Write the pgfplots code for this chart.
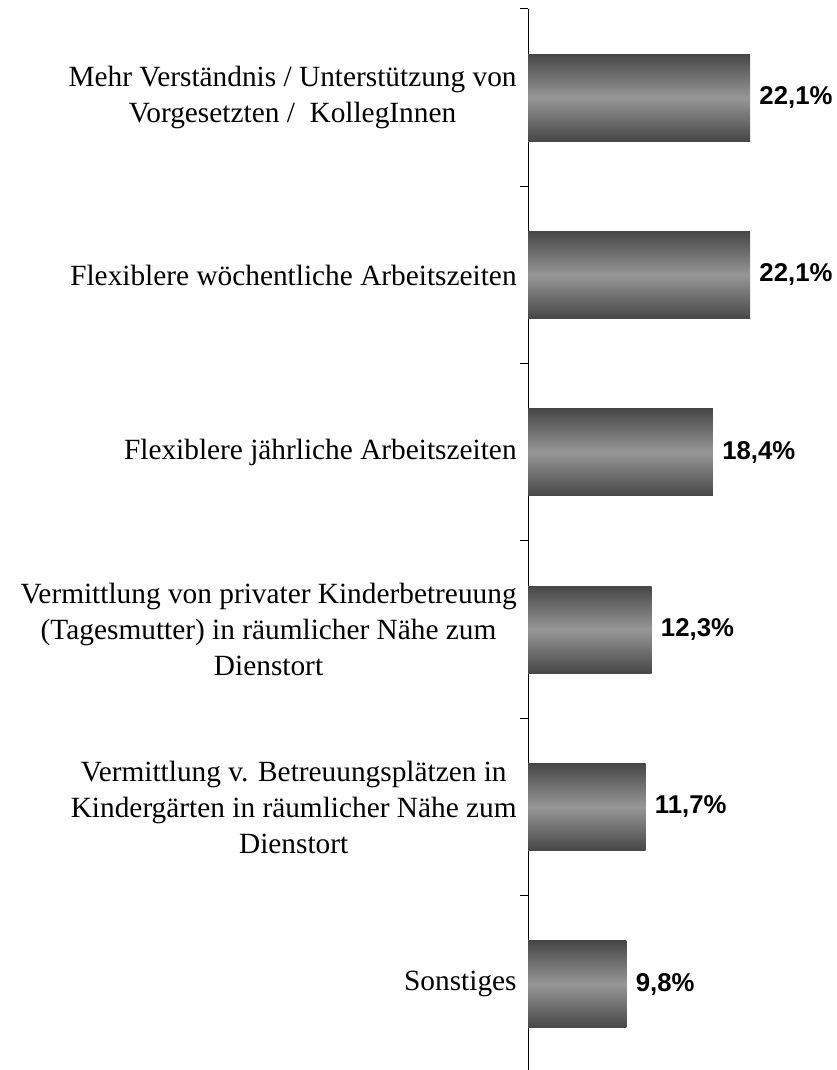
\documentclass[border=0pt]{standalone}
\usepackage{fontspec}
\setmainfont{Liberation Serif}
\newfontfamily\arialf{Liberation Sans}
\usepackage{pgfplots}
\pgfplotsset{compat=1.18}
\definecolor{bardark}{HTML}{474747}
\definecolor{barlight}{HTML}{979797}
\begin{document}
\begin{tikzpicture}
\useasboundingbox (0,0) rectangle (627pt,802.5pt);
\begin{axis}[
  at={(396pt,795.75pt)}, anchor=north west,
  scale only axis, width=226.125pt, height=798pt,
  xmin=0, xmax=30, ymin=0, ymax=6,
  enlargelimits=false, clip=false,
  axis x line=none, axis y line*=left,
  y axis line style={line width=0.75pt},
  ytick={0.5,1.5,2.5,3.5,4.5,5.5},
  yticklabels={Sonstiges,
    {Vermittlung v. Betreuungsplätzen in\\Kindergärten in räumlicher Nähe zum\\Dienstort},
    {Vermittlung von privater Kinderbetreuung\\(Tagesmutter) in räumlicher Nähe zum\\Dienstort},
    Flexiblere jährliche Arbeitszeiten,
    Flexiblere wöchentliche Arbeitszeiten,
    {Mehr Verständnis / Unterstützung von\\Vorgesetzten /~~KollegInnen}},
  yticklabel style={align=center, font=\fontsize{22}{27}\selectfont, xshift=-5pt},
  major tick length=0pt,
  minor ytick={0,1,2,3,4,5,6},
  minor tick length=6pt,
  tick align=outside, ytick pos=left,
  minor tick style={line width=0.75pt, black},
  xbar, bar width=0.49,
  nodes near coords, point meta=explicit symbolic,
  every node near coord/.append style={font=\fontsize{19.3}{22}\selectfont\arialf\bfseries, anchor=west, black, xshift=3.5pt},
  barsty/.style={draw=none, top color=bardark, bottom color=bardark, middle color=barlight, bar shift=0pt},
]
\addplot[barsty] coordinates {(9.8,0.5) [9,8\%]};
\addplot[barsty] coordinates {(11.7,1.5) [11,7\%]};
\addplot[barsty] coordinates {(12.3,2.5) [12,3\%]};
\addplot[barsty] coordinates {(18.4,3.5) [18,4\%]};
\addplot[barsty] coordinates {(22.1,4.5) [22,1\%]};
\addplot[barsty] coordinates {(22.1,5.5) [22,1\%]};
\end{axis}
\end{tikzpicture}
\end{document}
